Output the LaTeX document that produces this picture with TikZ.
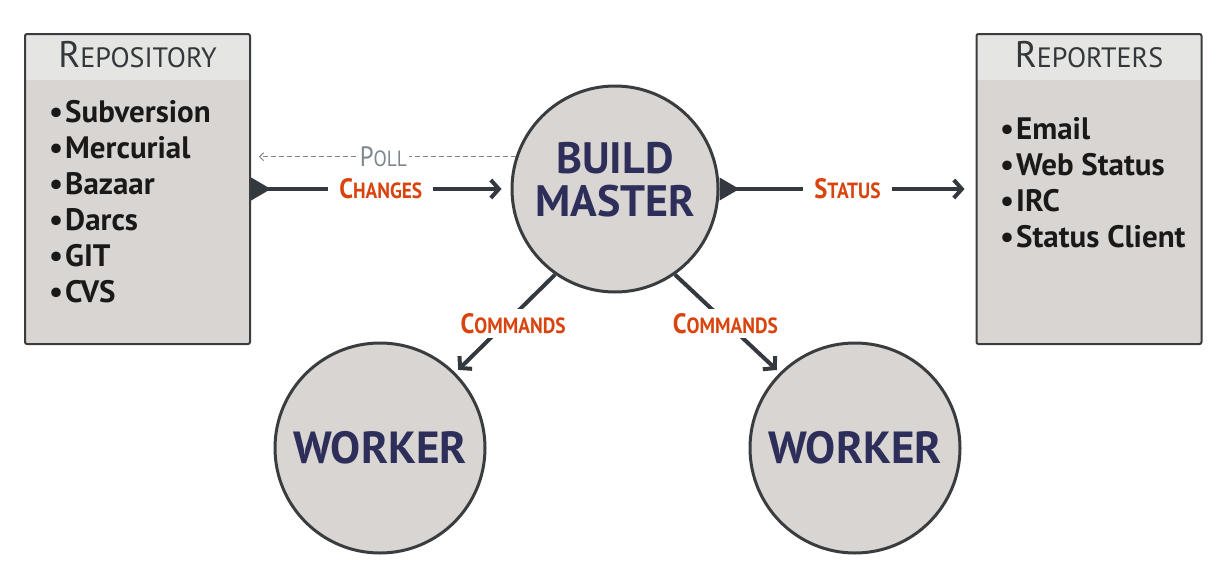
\documentclass[tikz,border=0pt]{standalone}
\usepackage{fontspec}
\setmainfont{PT Sans}
\newfontfamily\linkfont[FakeStretch=0.88]{PT Sans}
\usetikzlibrary{positioning}
\usetikzlibrary{arrows.meta}

\definecolor{boxgray}{HTML}{D9D5D2}
\definecolor{headgray}{HTML}{E5E6E3}
\definecolor{edgegray}{HTML}{3A3D40}
\definecolor{flowgray}{HTML}{33393E}
\definecolor{labelred}{HTML}{D9430D}
\definecolor{pollgray}{HTML}{7B868D}
\definecolor{hubnavy}{HTML}{2D2F5A}

% fake small caps: big first letter, smaller rest
\newcommand\headsc[2]{{\fontsize{37}{37}\selectfont#1}{\fontsize{28}{28}\selectfont#2}}
\newcommand\linksc[2]{{\linkfont{\fontsize{28}{28}\selectfont#1}{\fontsize{22}{22}\selectfont#2}}}

\begin{document}
\begin{tikzpicture}[x=1pt,y=-1pt,
	listbox/.style={draw=edgegray,line width=2pt,fill=boxgray,rounded corners=2pt,
		minimum width=225pt,minimum height=310pt,inner sep=0pt,
		path picture={\fill[headgray] (path picture bounding box.north west) rectangle ([yshift=-46pt]path picture bounding box.north east);}},
	headtext/.style={text=edgegray!90!black,inner sep=0pt},
	listitem/.style={anchor=west,inner sep=0pt,font=\bfseries\fontsize{31}{31}\selectfont,text=black!90},
	hub/.style={circle,draw=edgegray,line width=3pt,fill=boxgray,inner sep=0pt,
		text=hubnavy,align=center},
	flow/.style={draw=flowgray,line width=4pt},
	linklabel/.style={fill=white,text=labelred,font=\bfseries,inner xsep=11pt,inner ysep=4pt},
	polllabel/.style={fill=white,text=pollgray,inner xsep=2pt,inner ysep=1pt}]

	\useasboundingbox (0,0) rectangle (1226,581);

	% draw the two list boxes
	\node[listbox] (repo) at (137.5,189) {};
	\node[listbox] (rep) at (1089,189) {};
	\node[headtext] (repohead) at ([yshift=-22pt]repo.north) {\headsc{R}{EPOSITORY}};
	\node[headtext] (rephead) at ([yshift=-22pt]rep.north) {\headsc{R}{EPORTERS}};

	% draw list entries
	\foreach \vcs [count=\i] in {Subversion,Mercurial,Bazaar,Darcs,GIT,CVS}
	{
		\node[listitem] (vcs-\i) at (49,76+36*\i) {•\kern2pt\vcs};
	}
	\foreach \out [count=\i] in {Email,Web Status,IRC,Status Client}
	{
		\node[listitem] (out-\i) at (1000,93+36*\i) {•\kern2pt\out};
	}

	% draw master and workers
	\node[hub,minimum size=206pt,font=\bfseries\fontsize{44}{43}\selectfont] (master) at (615,189) {BUILD\\MASTER\rule[-20pt]{0pt}{0pt}};
	\node[hub,minimum size=210pt,font=\bfseries\fontsize{45}{45}\selectfont] (worker-1) at (380,448) {WORKER};
	\node[hub,minimum size=210pt,font=\bfseries\fontsize{45}{45}\selectfont] (worker-2) at (855,448) {WORKER};

	% draw poll line from master back to repository
	\coordinate (pollend) at (repo.east |- master.162);
	\draw[pollgray,line width=1pt,dash pattern=on 5pt off 3pt,-{Straight Barb[length=4pt,width=8pt]},shorten >=8pt]
		(master.162) -- node[polllabel] {\linksc{P}{OLL}} (pollend);

	% draw changes and status
	\draw[flow,{Triangle[reversed,length=20pt,width=22pt]}-{Straight Barb[length=8pt,width=18pt]},shorten >=9pt]
		(repo.east) -- node[linklabel] {\linksc{C}{HANGES}} (master.west);
	\draw[flow,{Triangle[reversed,length=20pt,width=22pt]}-{Straight Barb[length=8pt,width=18pt]},shorten >=11pt]
		(master.east) -- node[linklabel] {\linksc{S}{TATUS}} (rep.west);

	% draw commands to the workers
	\draw[flow,-{Straight Barb[length=8pt,width=18pt]},shorten >=4pt]
		(master.235) -- node[linklabel,inner xsep=3pt,xshift=8pt] {\linksc{C}{OMMANDS}} (worker-1.45);
	\draw[flow,-{Straight Barb[length=8pt,width=18pt]},shorten >=4pt]
		(master.305) -- node[linklabel,inner xsep=3pt,xshift=-2pt] {\linksc{C}{OMMANDS}} (worker-2.135);
\end{tikzpicture}
\end{document}
